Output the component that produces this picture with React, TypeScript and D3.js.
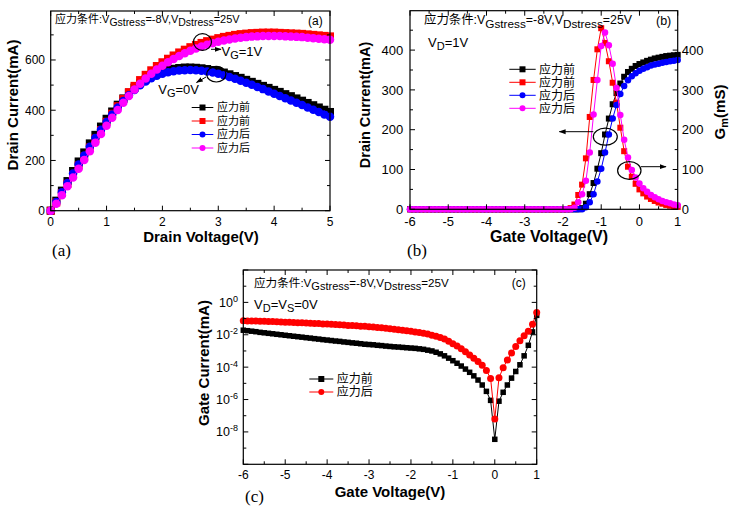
import React from "react";
import * as d3 from "d3";

const SANS = "'Liberation Sans', Arial, 'Noto Sans CJK SC', sans-serif";
const SERIF = "'Liberation Serif', 'DejaVu Serif', serif";

// ---------- Panel (a): Id-Vd ----------
const drainV = d3.range(51).map((i) => +(i * 0.1).toFixed(1));
const idBeforeVg0 = [
  0, 40, 80, 118, 158, 196, 232, 268, 302, 335,
  366, 395, 422, 447, 470, 490, 508, 523, 536, 547,
  555, 561, 565, 568, 570, 570, 569, 567, 564, 560,
  556, 550, 543, 536, 529, 521, 513, 505, 497, 489,
  481, 473, 464, 456, 447, 438, 429, 420, 411, 402,
  393,
];
const idBeforeVg1 = [
  0, 33, 70, 107, 143, 180, 216, 252, 287, 321,
  354, 386, 416, 445, 472, 497, 520, 541, 559, 576,
  591, 605, 618, 630, 641, 651, 660, 668, 675, 681,
  687, 692, 696, 700, 703, 705, 707, 708, 709, 709,
  709, 708, 707, 706, 705, 704, 702, 700, 698, 696,
  694,
];
const idAfterVg0 = [
  0, 35, 73, 110, 148, 184, 220, 255, 289, 322,
  353, 383, 411, 437, 460, 481, 499, 514, 527, 537,
  545, 551, 555, 558, 559, 560, 559, 557, 554, 550,
  545, 539, 532, 525, 517, 509, 501, 492, 484, 475,
  466, 457, 448, 439, 430, 421, 411, 402, 393, 383,
  374,
];
const idAfterVg1 = [
  0, 28, 62, 97, 132, 167, 202, 237, 271, 305,
  338, 370, 401, 430, 457, 482, 505, 526, 545, 562,
  577, 591, 604, 616, 627, 637, 646, 654, 661, 667,
  673, 678, 682, 686, 689, 691, 693, 694, 695, 695,
  695, 695, 694, 693, 692, 691, 689, 687, 685, 683,
  681,
];
const aXTicks = [0, 1, 2, 3, 4, 5];
const aYTicks = [0, 200, 400, 600];

// ---------- Panel (b): Id-Vg and Gm ----------
const gateV = d3.range(71).map((i) => +(-6 + i * 0.1).toFixed(1));
const idVgBefore = [
  0, 0, 0, 0, 0, 0, 0, 0, 0, 0,
  0, 0, 0, 0, 0, 0, 0, 0, 0, 0,
  0, 0, 0, 0, 0, 0, 0, 0, 0, 0,
  0, 0, 0, 0, 0, 0, 0, 0, 0, 0,
  0, 0, 0, 0, 0,
  3, 14, 38, 66, 102, 141, 188, 228, 264, 292,
  316, 333, 345, 353, 360, 365, 369, 373, 376, 379,
  381, 383, 385, 386, 387, 388,
];
const gmBefore = [
  0, 0, 0, 0, 0, 0, 0, 0, 0, 0,
  0, 0, 0, 0, 0, 0, 0, 0, 0, 0,
  0, 0, 0, 0, 0, 0, 0, 0, 0, 0,
  0, 0, 0, 0, 0, 0, 0, 0, 0, 0,
  0, 0,
  3, 12, 36, 62, 128, 232, 325, 402, 455, 418,
  372, 318, 268, 205, 146, 107, 82, 64, 50, 40,
  32, 26, 21, 17, 14, 11, 9, 7, 6,
];
const idVgAfter = [
  0, 0, 0, 0, 0, 0, 0, 0, 0, 0,
  0, 0, 0, 0, 0, 0, 0, 0, 0, 0,
  0, 0, 0, 0, 0, 0, 0, 0, 0, 0,
  0, 0, 0, 0, 0, 0, 0, 0, 0, 0,
  0, 0, 0, 0, 0,
  0, 5, 18, 38, 70, 102, 143, 188, 228, 262,
  290, 310, 324, 334, 342, 348, 353, 357, 361, 364,
  366, 368, 370, 372, 373, 375,
];
const gmAfter = [
  0, 0, 0, 0, 0, 0, 0, 0, 0, 0,
  0, 0, 0, 0, 0, 0, 0, 0, 0, 0,
  0, 0, 0, 0, 0, 0, 0, 0, 0, 0,
  0, 0, 0, 0, 0, 0, 0, 0, 0, 0,
  0, 0, 0,
  4, 18, 38, 72, 143, 238, 325, 410, 444, 412,
  366, 305, 237, 175, 130, 99, 80, 65, 53, 44,
  36, 30, 25, 21, 18, 15, 12, 10,
];
const bXTicks = [-6, -5, -4, -3, -2, -1, 0, 1];
const bYTicks = [0, 100, 200, 300, 400];

// ---------- Panel (c): Ig-Vg (log) ----------
const igBefore = [
  1.91e-2, 1.78e-2, 1.66e-2, 1.55e-2, 1.41e-2, 1.32e-2, 1.23e-2, 1.15e-2, 1.07e-2, 1.0e-2,
  9.3e-3, 8.7e-3, 8.1e-3, 7.6e-3, 7.1e-3, 6.6e-3, 6.2e-3, 5.75e-3, 5.4e-3, 5.0e-3,
  4.7e-3, 4.4e-3, 4.1e-3, 3.9e-3, 3.6e-3, 3.4e-3, 3.16e-3, 3.0e-3, 2.8e-3, 2.6e-3,
  2.5e-3, 2.4e-3, 2.24e-3, 2.14e-3, 2.0e-3, 1.9e-3, 1.8e-3, 1.74e-3, 1.66e-3, 1.58e-3,
  1.51e-3, 1.45e-3, 1.35e-3, 1.26e-3, 1.12e-3, 1.0e-3, 8.3e-4, 6.6e-4, 5.0e-4, 3.6e-4,
  2.5e-4, 1.74e-4, 1.17e-4, 7.6e-5, 4.8e-5, 2.9e-5, 1.6e-5, 7.9e-6, 3.2e-6, 8.9e-7,
  3.5e-9, 7.9e-7, 2.8e-6, 7.9e-6, 2.1e-5, 5.4e-5, 1.4e-4, 5.0e-4, 2.24e-3, 1.5e-2,
  1.58e-1,
];
const igAfter = [
  7.4e-2, 7.2e-2, 7.2e-2, 7.1e-2, 6.9e-2, 6.8e-2, 6.6e-2, 6.5e-2, 6.3e-2, 6.2e-2,
  6.0e-2, 5.9e-2, 5.75e-2, 5.6e-2, 5.5e-2, 5.25e-2, 5.1e-2, 5.0e-2, 4.9e-2, 4.7e-2,
  4.6e-2, 4.5e-2, 4.3e-2, 4.2e-2, 4.0e-2, 3.8e-2, 3.7e-2, 3.55e-2, 3.4e-2, 3.3e-2,
  3.16e-2, 3.0e-2, 2.8e-2, 2.7e-2, 2.5e-2, 2.35e-2, 2.2e-2, 2.05e-2, 1.9e-2, 1.78e-2,
  1.66e-2, 1.5e-2, 1.38e-2, 1.23e-2, 1.1e-2, 9.5e-3, 8.1e-3, 6.8e-3, 5.4e-3, 4.0e-3,
  2.8e-3, 2.0e-3, 1.35e-3, 8.9e-4, 5.6e-4, 3.5e-4, 2.2e-4, 1.3e-4, 6.3e-5, 2.0e-5,
  6.3e-8, 2.2e-5, 9.1e-5, 2.8e-4, 7.6e-4, 1.9e-3, 4.2e-3, 8.7e-3, 1.66e-2, 4.5e-2,
  2.4e-1,
];
const cYLabelExp = [0, -2, -4, -6, -8];

const legendLabels = ["应力前", "应力前", "应力后", "应力后"];
const legendLabelsC = ["应力前", "应力后"];

const BLACK = "#000000";
const RED = "#ff0000";
const BLUE = "#0000ff";
const MAGENTA = "#ff00ff";

function Marker({ cx, cy, shape, size, color }: any) {
  if (shape === "square")
    return <rect x={cx - size / 2} y={cy - size / 2} width={size} height={size} fill={color} />;
  return <circle cx={cx} cy={cy} r={size / 2} fill={color} />;
}

function Series({ xs, ys, x, y, color, shape, size }: any) {
  const line = d3
    .line<number>()
    .x((_, i) => x(xs[i]))
    .y((d) => y(d));
  return (
    <g>
      <path d={line(ys) || ""} fill="none" stroke={color} strokeWidth={1} />
      {ys.map((v: number, i: number) => (
        <Marker key={i} cx={x(xs[i])} cy={y(v)} shape={shape} size={size} color={color} />
      ))}
    </g>
  );
}

function Frame({ x, y, xMajor, xMinor, yMajor, yMinor }: any) {
  const [xl, xr] = x.range();
  const [yb, yt] = y.range();
  const L = 5;
  const l = 3;
  const items: any[] = [];
  xMajor.forEach((v: number, i: number) => {
    const p = x(v);
    items.push(<line key={"xM" + i} x1={p} x2={p} y1={yb} y2={yb - L} />);
    items.push(<line key={"xMt" + i} x1={p} x2={p} y1={yt} y2={yt + L} />);
  });
  xMinor.forEach((v: number, i: number) => {
    const p = x(v);
    items.push(<line key={"xm" + i} x1={p} x2={p} y1={yb} y2={yb - l} />);
    items.push(<line key={"xmt" + i} x1={p} x2={p} y1={yt} y2={yt + l} />);
  });
  yMajor.forEach((v: number, i: number) => {
    const p = y(v);
    items.push(<line key={"yM" + i} x1={xl} x2={xl + L} y1={p} y2={p} />);
    items.push(<line key={"yMr" + i} x1={xr} x2={xr - L} y1={p} y2={p} />);
  });
  yMinor.forEach((v: number, i: number) => {
    const p = y(v);
    items.push(<line key={"ym" + i} x1={xl} x2={xl + l} y1={p} y2={p} />);
    items.push(<line key={"ymr" + i} x1={xr} x2={xr - l} y1={p} y2={p} />);
  });
  return (
    <g stroke="#000" strokeWidth={1} fill="none">
      {items}
      <rect x={xl} y={yt} width={xr - xl} height={yb - yt} strokeWidth={1.2} />
    </g>
  );
}

function Legend({ x0, x1, tx, rows, labels, colors, shapes, size, fontSize }: any) {
  return (
    <g>
      {labels.map((lab: string, i: number) => (
        <g key={i}>
          <line x1={x0} x2={x1} y1={rows[i]} y2={rows[i]} stroke={colors[i]} strokeWidth={1} />
          <Marker cx={(x0 + x1) / 2} cy={rows[i]} shape={shapes[i]} size={size} color={colors[i]} />
          <text x={tx} y={rows[i] + fontSize * 0.36} fontSize={fontSize} fontFamily={SANS}>
            {lab}
          </text>
        </g>
      ))}
    </g>
  );
}

function Stress({ x, y, fs }: any) {
  return (
    <text x={x} y={y} fontSize={fs} fontFamily={SANS}>
      应力条件:V
      <tspan dy={fs * 0.3} fontSize={fs * 0.95}>Gstress</tspan>
      <tspan dy={-fs * 0.3}>=-8V,V</tspan>
      <tspan dy={fs * 0.3} fontSize={fs * 0.95}>Dstress</tspan>
      <tspan dy={-fs * 0.3}>=25V</tspan>
    </text>
  );
}

export default function App() {
  // scales
  const xA = d3.scaleLinear().domain([0, 5]).range([50.7, 330]);
  const yA = d3.scaleLinear().domain([0, 795]).range([210.7, 11]);
  const xB = d3.scaleLinear().domain([-6, 1]).range([410, 677.7]);
  const yB = d3.scaleLinear().domain([0, 499]).range([209.3, 10.7]);
  const xC = d3.scaleLinear().domain([-6, 1]).range([243.3, 536.7]);
  const yC = d3.scaleLog().domain([1e-10, 1e2]).range([464.3, 270]);

  const half = (ticks: number[]) => ticks.slice(0, -1).map((t, i) => (t + ticks[i + 1]) / 2);

  return (
    <svg width={734} height={511} style={{ display: "block", position: "absolute", left: 0, top: 0 }}>
      <defs>
        <marker id="ah" viewBox="0 0 10 10" refX={9} refY={5} markerWidth={7} markerHeight={7} orient="auto">
          <path d="M0,1.5 L10,5 L0,8.5 Z" fill="#000" />
        </marker>
      </defs>
      <rect x={0} y={0} width={734} height={511} fill="#fff" />

      {/* ================= Panel (a) ================= */}
      <g>
        <Series xs={drainV} ys={idBeforeVg0} x={xA} y={yA} color={BLACK} shape="square" size={8} />
        <Series xs={drainV} ys={idBeforeVg1} x={xA} y={yA} color={RED} shape="square" size={8} />
        <Series xs={drainV} ys={idAfterVg0} x={xA} y={yA} color={BLUE} shape="circle" size={8.5} />
        <Series xs={drainV} ys={idAfterVg1} x={xA} y={yA} color={MAGENTA} shape="circle" size={8.5} />
        <Frame x={xA} y={yA} xMajor={aXTicks} xMinor={half(aXTicks)} yMajor={aYTicks} yMinor={[100, 300, 500, 700]} />
        {aXTicks.map((t) => (
          <text key={t} x={xA(t)} y={225.5} fontSize={12} fontFamily={SANS} textAnchor="middle">{t}</text>
        ))}
        {aYTicks.map((t) => (
          <text key={t} x={45} y={yA(t) + 4.3} fontSize={12} fontFamily={SANS} textAnchor="end">{t}</text>
        ))}
        <text x={201} y={241.5} fontSize={15} fontWeight="bold" fontFamily={SANS} textAnchor="middle">Drain Voltage(V)</text>
        <text transform="translate(17.5,105) rotate(-90)" fontSize={15} fontWeight="bold" fontFamily={SANS} textAnchor="middle">Drain Current(mA)</text>
        <Stress x={55} y={22.5} fs={11} />
        <text x={308} y={25} fontSize={12} fontFamily={SANS}>(a)</text>
        <Legend x0={191.7} x1={213.3} tx={217} rows={[107.5, 121, 134.5, 148]} labels={legendLabels}
          colors={[BLACK, RED, BLUE, MAGENTA]} shapes={["square", "square", "circle", "circle"]} size={6} fontSize={11} />
        <ellipse cx={202.5} cy={42} rx={9} ry={8.3} fill="none" stroke="#000" strokeWidth={1.2} />
        <line x1={211} y1={49.3} x2={221} y2={49.3} stroke="#000" strokeWidth={1} markerEnd="url(#ah)" />
        <text x={221.5} y={55.5} fontSize={13} fontFamily={SANS}>V<tspan dy={3} fontSize={11}>G</tspan><tspan dy={-3}>=1V</tspan></text>
        <ellipse cx={216.3} cy={74.2} rx={9.6} ry={7.8} fill="none" stroke="#000" strokeWidth={1.2} />
        <line x1={206} y1={77} x2={196.5} y2={82.5} stroke="#000" strokeWidth={1} markerEnd="url(#ah)" />
        <text x={158.3} y={94} fontSize={13} fontFamily={SANS}>V<tspan dy={3} fontSize={11}>G</tspan><tspan dy={-3}>=0V</tspan></text>
        <text x={52} y={255.5} fontSize={17} fontFamily={SERIF}>(a)</text>
      </g>

      {/* ================= Panel (b) ================= */}
      <g>
        <Series xs={gateV} ys={idVgBefore} x={xB} y={yB} color={BLACK} shape="square" size={6} />
        <Series xs={gateV} ys={gmBefore} x={xB} y={yB} color={RED} shape="square" size={6} />
        <Series xs={gateV} ys={idVgAfter} x={xB} y={yB} color={BLUE} shape="circle" size={6.5} />
        <Series xs={gateV} ys={gmAfter} x={xB} y={yB} color={MAGENTA} shape="circle" size={6.5} />
        <Frame x={xB} y={yB} xMajor={bXTicks} xMinor={half(bXTicks)} yMajor={bYTicks} yMinor={[50, 150, 250, 350, 450]} />
        {bXTicks.map((t) => (
          <text key={t} x={xB(t)} y={225.5} fontSize={13} fontFamily={SANS} textAnchor="middle">{t}</text>
        ))}
        {bYTicks.map((t) => (
          <text key={"l" + t} x={403.3} y={yB(t) + 4.6} fontSize={13} fontFamily={SANS} textAnchor="end">{t}</text>
        ))}
        {bYTicks.map((t) => (
          <text key={"r" + t} x={681.7} y={yB(t) + 4.6} fontSize={13} fontFamily={SANS} textAnchor="start">{t}</text>
        ))}
        <text x={549} y={241.5} fontSize={16} fontWeight="bold" fontFamily={SANS} textAnchor="middle">Gate Voltage(V)</text>
        <text transform="translate(370,105) rotate(-90)" fontSize={14.5} fontWeight="bold" fontFamily={SANS} textAnchor="middle">Drain Current(mA)</text>
        <text transform="translate(725,112) rotate(-90)" fontSize={15} fontWeight="bold" fontFamily={SANS} textAnchor="middle">
          G<tspan dy={3} fontSize={11}>m</tspan><tspan dy={-3}>(mS)</tspan>
        </text>
        <Stress x={424} y={24} fs={12.4} />
        <text x={656} y={25} fontSize={12.5} fontFamily={SANS}>(b)</text>
        <text x={428} y={47} fontSize={13} fontFamily={SANS}>V<tspan dy={3} fontSize={11}>D</tspan><tspan dy={-3}>=1V</tspan></text>
        <Legend x0={509.3} x1={535.7} tx={539} rows={[69.3, 82.3, 95.3, 108.3]} labels={legendLabels}
          colors={[BLACK, RED, BLUE, MAGENTA]} shapes={["square", "square", "circle", "circle"]} size={6} fontSize={12} />
        <ellipse cx={605.3} cy={136.7} rx={12} ry={8.5} fill="none" stroke="#000" strokeWidth={1.2} />
        <line x1={593.3} y1={131.7} x2={559.3} y2={131.7} stroke="#000" strokeWidth={1} markerEnd="url(#ah)" />
        <ellipse cx={629.3} cy={170.5} rx={11.7} ry={8.8} fill="none" stroke="#000" strokeWidth={1.2} />
        <line x1={641} y1={166.7} x2={666} y2={166.7} stroke="#000" strokeWidth={1} markerEnd="url(#ah)" />
        <text x={407} y={255.5} fontSize={17} fontFamily={SERIF}>(b)</text>
      </g>

      {/* ================= Panel (c) ================= */}
      <g>
        <Series xs={gateV} ys={igBefore} x={xC} y={yC} color={BLACK} shape="square" size={5.5} />
        <Series xs={gateV} ys={igAfter} x={xC} y={yC} color={RED} shape="circle" size={7} />
        <Frame x={xC} y={yC} xMajor={bXTicks} xMinor={half(bXTicks)}
          yMajor={[1e-10, 1e-8, 1e-6, 1e-4, 1e-2, 1, 1e2]} yMinor={[1e-9, 1e-7, 1e-5, 1e-3, 1e-1, 1e1]} />
        {bXTicks.map((t) => (
          <text key={t} x={xC(t)} y={479} fontSize={12} fontFamily={SANS} textAnchor="middle">{t}</text>
        ))}
        {cYLabelExp.map((e) => (
          <text key={e} x={238} y={yC(Math.pow(10, e)) + 4.5} fontSize={12.5} fontFamily={SANS} textAnchor="end">
            10<tspan dy={-5} fontSize={9}>{e}</tspan>
          </text>
        ))}
        <text x={390} y={496.5} fontSize={15} fontWeight="bold" fontFamily={SANS} textAnchor="middle">Gate Voltage(V)</text>
        <text transform="translate(209,363) rotate(-90)" fontSize={15} fontWeight="bold" fontFamily={SANS} textAnchor="middle">Gate Current(mA)</text>
        <Stress x={254} y={286.5} fs={11.6} />
        <text x={511.7} y={286.7} fontSize={12} fontFamily={SANS}>(c)</text>
        <text x={254} y={309} fontSize={13} fontFamily={SANS}>
          V<tspan dy={3} fontSize={11}>D</tspan><tspan dy={-3}>=V</tspan><tspan dy={3} fontSize={11}>S</tspan><tspan dy={-3}>=0V</tspan>
        </text>
        <Legend x0={309.3} x1={333.3} tx={336.7} rows={[379, 392]} labels={legendLabelsC}
          colors={[BLACK, RED]} shapes={["square", "circle"]} size={6} fontSize={12} />
        <text x={245} y={502} fontSize={17} fontFamily={SERIF}>(c)</text>
      </g>
    </svg>
  );
}
